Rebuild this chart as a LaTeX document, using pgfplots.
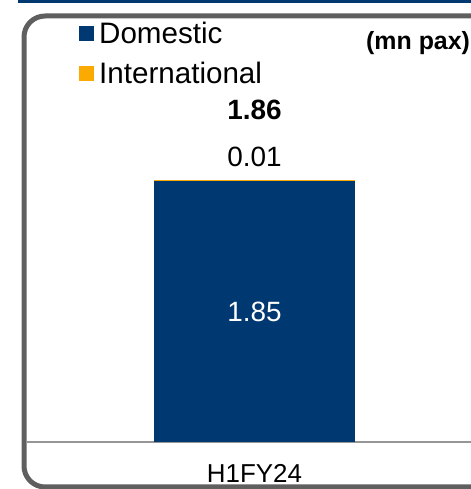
\documentclass[border=0pt]{standalone}
\usepackage{pgfplots}
\pgfplotsset{compat=1.18}
\usepackage{fontspec}
\setmainfont{Liberation Sans}
\definecolor{dblue}{RGB}{0,56,113}
\definecolor{orng}{RGB}{250,170,0}
\definecolor{bgray}{RGB}{95,95,95}
\definecolor{lgray}{RGB}{150,150,150}
\begin{document}
\begin{tikzpicture}
\clip (0bp,0bp) rectangle (471bp,489bp);
\fill[dblue] (18bp,485.5bp) rectangle (480bp,489bp);
\draw[bgray, line width=5bp, rounded corners=21bp] (24bp,2bp) rectangle (495bp,473bp);
\begin{axis}[
  at={(27bp,47bp)}, anchor=south west,
  scale only axis, width=460bp, height=262bp,
  xmin=-1.1318, xmax=1.1567, ymin=0, ymax=1.86,
  enlargelimits=false, clip=false,
  ybar stacked, bar width=201bp,
  axis line style={draw=none},
  xtick={0}, xticklabels={H1FY24}, ytick=\empty, major tick length=0pt,
  xticklabel style={font=\fontsize{26}{30}\selectfont, anchor=center, yshift=-31bp},
  legend style={draw=none, fill=none, at={(axis description cs:0.113,1.61)}, anchor=north west,
    font=\fontsize{29.7}{34}\selectfont, inner sep=0pt, row sep=13bp},
  legend cell align=left,
  legend image code/.code={\fill[#1] (0bp,-7.5bp) rectangle (15bp,7.5bp);},
]
\addplot[fill=dblue, draw=none] coordinates {(0,1.85)};
\addlegendentry{\hspace{3bp}Domestic}
\addplot[fill=orng, draw=none] coordinates {(0,0.01)};
\addlegendentry{\hspace{3bp}International}
\draw[lgray, line width=1.6bp] (rel axis cs:0,0) -- (rel axis cs:1,0);
\coordinate (midlab) at (axis cs:0,0.925);
\node[font=\fontsize{28}{32}\selectfont] at (axis cs:0,2.023) {0.01};
\node[font=\fontsize{28}{32}\selectfont\bfseries] at (axis cs:0,2.357) {1.86};
\end{axis}
\node[font=\fontsize{28}{32}\selectfont, text=white] at (midlab) {1.85};
\node[anchor=west, font=\fontsize{25}{29}\selectfont\bfseries, inner sep=0pt] at (366bp,446bp) {(mn pax)};
\end{tikzpicture}
\end{document}
